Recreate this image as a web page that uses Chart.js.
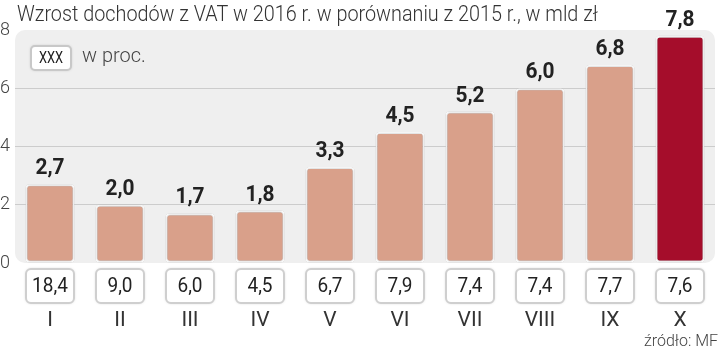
<!DOCTYPE html>
<html>
<head>
<meta charset="utf-8">
<script src="https://cdn.jsdelivr.net/npm/chart.js"></script>
<style>
  html, body { margin: 0; padding: 0; background: #fff; overflow: hidden; }
  #wrap { width: 720px; height: 351px; }
</style>
</head>
<body>
<div id="wrap"><canvas id="vat"></canvas></div>
<script>
// dane
const months = ['I', 'II', 'III', 'IV', 'V', 'VI', 'VII', 'VIII', 'IX', 'X'];
const wzrost = [2.7, 2.0, 1.7, 1.8, 3.3, 4.5, 5.2, 6.0, 6.8, 7.8];   // mld zł
const proc = [18.4, 9.0, 6.0, 4.5, 6.7, 7.9, 7.4, 7.4, 7.7, 7.6];    // w proc.
const yTicks = [0, 2, 4, 6, 8];

const title = 'Wzrost dochodów z VAT w 2016 r. w porównaniu z 2015 r., w mld zł';
const source = 'źródło: MF';

const fmt = v => v.toFixed(1).replace('.', ',');
const barColors = wzrost.map((v, i) => i === wzrost.length - 1 ? '#a50d2b' : '#d9a08a');

function roundRect(ctx, x, y, w, h, r) {
  ctx.beginPath();
  ctx.moveTo(x + r, y);
  ctx.arcTo(x + w, y, x + w, y + h, r);
  ctx.arcTo(x + w, y + h, x, y + h, r);
  ctx.arcTo(x, y + h, x, y, r);
  ctx.arcTo(x, y, x + w, y, r);
  ctx.closePath();
}

// tekst zwężony w poziomie
function narrowText(ctx, txt, x, y, sx) {
  ctx.save();
  ctx.translate(x, y);
  ctx.scale(sx, 1);
  ctx.fillText(txt, 0, 0);
  ctx.restore();
}

const decor = {
  id: 'decor',
  beforeDraw(chart) {
    const {ctx, chartArea: a} = chart;
    ctx.save();
    roundRect(ctx, a.left, a.top, a.right - a.left, a.bottom - a.top, 10);
    ctx.fillStyle = '#efefef';
    ctx.fill();
    ctx.restore();
  },
  beforeDatasetsDraw(chart) {
    const ctx = chart.ctx;
    ctx.save();
    ctx.shadowColor = 'rgba(0,0,0,0.3)';
    ctx.shadowBlur = 3;
  },
  afterDatasetsDraw(chart) {
    chart.ctx.restore();
  },
  afterDraw(chart) {
    const {ctx, chartArea: a} = chart;
    const bars = chart.getDatasetMeta(0).data;
    ctx.save();

    // tytuł
    ctx.fillStyle = '#333';
    ctx.font = '300 22px Roboto, "Open Sans", sans-serif';
    ctx.textAlign = 'left';
    ctx.textBaseline = 'alphabetic';
    narrowText(ctx, title, 17, 21, 0.9);

    // legenda
    ctx.save();
    ctx.shadowColor = 'rgba(0,0,0,0.25)';
    ctx.shadowBlur = 3;
    roundRect(ctx, 31, 46, 40, 24, 4);
    ctx.fillStyle = '#fff';
    ctx.fill();
    ctx.restore();
    roundRect(ctx, 31, 46, 40, 24, 4);
    ctx.strokeStyle = '#c8c8c8';
    ctx.lineWidth = 2;
    ctx.stroke();
    ctx.fillStyle = '#222';
    ctx.font = '16px Roboto, sans-serif';
    ctx.textAlign = 'center';
    ctx.textBaseline = 'middle';
    narrowText(ctx, 'XXX', 51, 58.5, 0.8);
    ctx.fillStyle = '#444';
    ctx.font = '300 21px Roboto, sans-serif';
    ctx.textAlign = 'left';
    narrowText(ctx, 'w proc.', 82, 57, 0.95);

    bars.forEach((bar, i) => {
      // wartości nad słupkami
      ctx.fillStyle = '#222';
      ctx.font = 'bold 22px Roboto, sans-serif';
      ctx.textAlign = 'center';
      ctx.textBaseline = 'alphabetic';
      narrowText(ctx, fmt(wzrost[i]), bar.x, bar.y - 10, 0.95);

      // ramki z procentami
      const w = 48, h = 34, top = a.bottom + 6;
      ctx.save();
      ctx.shadowColor = 'rgba(0,0,0,0.25)';
      ctx.shadowBlur = 3;
      roundRect(ctx, bar.x - w / 2, top, w, h, 5);
      ctx.fillStyle = '#fff';
      ctx.fill();
      ctx.restore();
      roundRect(ctx, bar.x - w / 2, top, w, h, 5);
      ctx.strokeStyle = '#cfcfcf';
      ctx.lineWidth = 2;
      ctx.stroke();
      ctx.fillStyle = '#222';
      ctx.font = '20px Roboto, sans-serif';
      ctx.textAlign = 'center';
      ctx.textBaseline = 'middle';
      narrowText(ctx, fmt(proc[i]), bar.x, top + h / 2 + 1, 0.95);
    });

    // źródło
    ctx.fillStyle = '#444';
    ctx.font = '300 16px Roboto, sans-serif';
    ctx.textAlign = 'right';
    ctx.textBaseline = 'middle';
    ctx.fillText(source, 718, 342);
    ctx.restore();
  }
};

new Chart(document.getElementById('vat'), {
  type: 'bar',
  data: {
    labels: months,
    datasets: [{
      data: wzrost,
      backgroundColor: barColors,
      borderColor: '#ffffff',
      borderWidth: 2,
      borderRadius: 4,
      borderSkipped: false,
      barPercentage: 0.7,
      categoryPercentage: 1.0
    }]
  },
  options: {
    responsive: true,
    maintainAspectRatio: false,
    animation: false,
    layout: { padding: { top: 30, right: 5, left: 0, bottom: 0 } },
    plugins: { legend: { display: false }, tooltip: { enabled: false } },
    scales: {
      x: {
        grid: {
          drawOnChartArea: false,
          drawTicks: true,
          tickLength: 45,
          tickColor: 'rgba(0,0,0,0)',
          color: 'rgba(0,0,0,0)'
        },
        border: { display: false },
        ticks: {
          color: '#333',
          font: { family: 'Roboto', size: 21 },
          padding: 0
        },
        afterFit: s => { s.height = 88; }
      },
      y: {
        min: yTicks[0],
        max: yTicks[yTicks.length - 1],
        afterBuildTicks: s => { s.ticks = yTicks.map(v => ({value: v})); },
        grid: {
          drawTicks: false,
          color: c => (c.tick.value === 0 || c.tick.value === 8) ? 'rgba(0,0,0,0)' : '#cccccc',
          lineWidth: 1
        },
        border: { display: false },
        ticks: {
          color: '#444',
          crossAlign: 'far',
          padding: 0,
          font: { family: 'Roboto', size: 18, weight: 300 }
        },
        afterFit: s => { s.width = 15; }
      }
    }
  },
  plugins: [decor]
});
</script>
</body>
</html>
